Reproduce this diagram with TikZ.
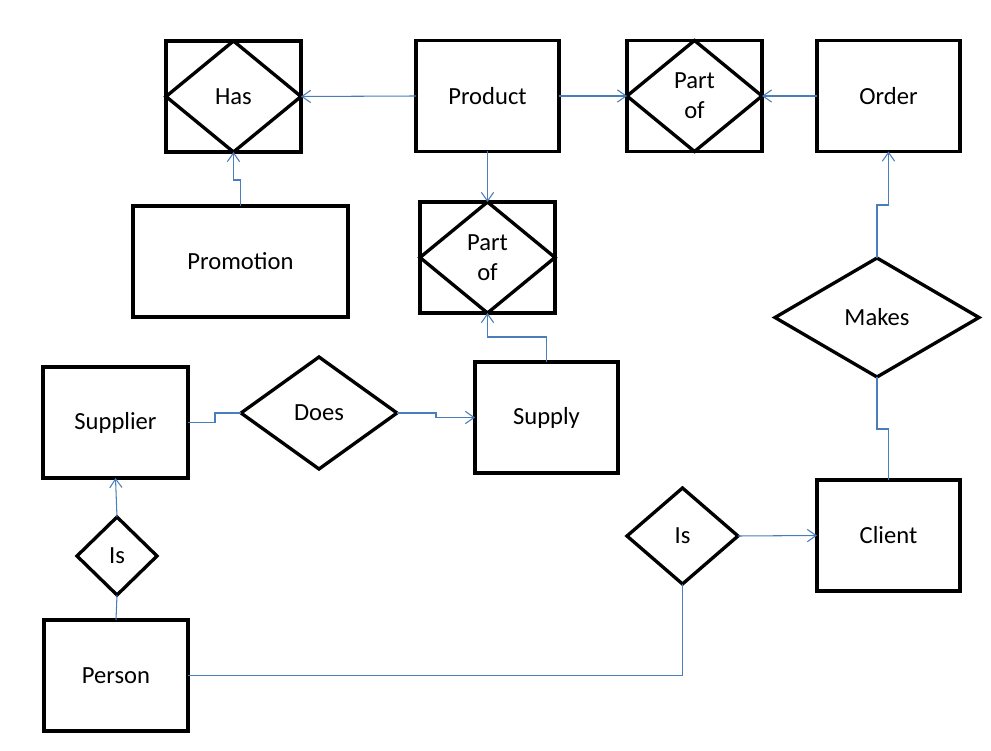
\documentclass[tikz,border=0pt]{standalone}
\usepackage{fontspec}
\setmainfont{Carlito}
\usepackage{tikz}
\usetikzlibrary{arrows.meta, shapes.geometric}
\definecolor{trait}{HTML}{4A7EBB}

\begin{document}
\begin{tikzpicture}[
    font=\fontsize{14}{17}\selectfont,
    entity/.style={draw, line width=1.9pt, minimum height=2.22cm, inner sep=0pt, outer sep=0pt, align=center},
    relation/.style={draw, diamond, line width=1.9pt, inner sep=0pt, outer sep=0pt, line join=miter},
    link/.style={draw=trait, line width=0.6pt},
    fleche/.style={link, -{Straight Barb[length=5pt, width=7pt]}}]
    \useasboundingbox (0,0) rectangle (19.82,15);
    % entites
    \foreach \nm/\x/\y/\w/\lab in {
      has/4.67/13.07/2.70/{Has},
      product/9.75/13.08/2.86/{Product},
      partA/13.89/13.08/2.70/{Part\\of},
      order/17.77/13.08/2.86/{Order},
      promo/4.81/9.77/4.30/{Promotion},
      partB/9.75/9.85/2.70/{Part\\of},
      supplier/2.31/6.55/2.90/{Supplier},
      supply/10.93/6.65/2.86/{Supply},
      client/17.77/4.29/2.86/{Client},
      person/2.32/1.49/2.88/{Person}} {
      \node[entity, minimum width=\w cm] (\nm) at (\x,\y) {\lab};
    }
    % losanges dans les boites
    \foreach \nm in {has, partA, partB} {
      \draw[line width=1.9pt] (\nm.north) -- (\nm.east) -- (\nm.south) -- (\nm.west) -- cycle;
    }
    % relations
    \foreach \nm/\x/\y/\w/\h/\lab in {
      makes/17.54/8.65/4.08/2.38/{Makes},
      does/6.38/6.74/3.12/2.24/{Does},
      isB/13.65/4.28/2.22/1.92/{Is},
      isA/2.34/3.88/1.60/1.56/{Is}} {
      \node[relation, minimum width=\w cm, minimum height=\h cm] (\nm) at (\x,\y) {\lab};
    }
    % liens
    \draw[fleche] (product.west) -- (has.east);
    \draw[fleche] (promo.north) -- ++(0,0.52) -| (has.south);
    \draw[fleche] (product.east) -- (partA.west);
    \draw[fleche] (order.west) -- (partA.east);
    \draw[fleche] (product.south) -- (partB.north);
    \draw[fleche] (supply.north) -- ++(0,0.5) -| (partB.south);
    \draw[fleche] (makes.north) -- ++(0,1.06) -| (order.south);
    \draw[link] (client.north) -- ++(0,1.02) -| (makes.south);
    \draw[link] (supplier.east) -- ++(0.54,0) |- (does.west);
    \draw[fleche] (does.east) -- ++(0.78,0) |- (supply.west);
    \draw[link] (person.north) -- (isA.south);
    \draw[fleche] (isA.north) -- (supplier.south);
    \draw[link] (person.east) -| (isB.south);
    \draw[fleche] (isB.east) -- (client.west);
\end{tikzpicture}
\end{document}
